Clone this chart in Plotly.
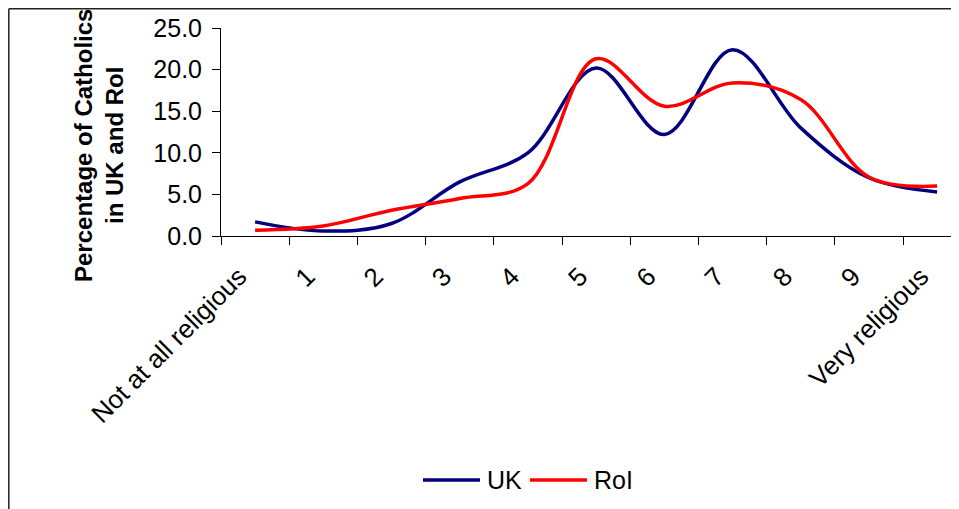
import plotly.graph_objects as go

categories = ["Not at all religious", "1", "2", "3", "4", "5", "6", "7", "8", "9", "Very religious"]
uk_values = [1.7, 0.6, 1.5, 6.5, 10.0, 20.2, 12.2, 22.4, 13.0, 7.0, 5.3]
roi_values = [0.7, 1.2, 3.1, 4.5, 6.3, 21.3, 15.6, 18.4, 16.4, 7.1, 6.0]
y_ticks = [0, 5, 10, 15, 20, 25]
series_names = ["UK", "RoI"]
series_colors = ["#000080", "#FF0000"]

# page body adds an 8px offset, so the figure is drawn 8px smaller
OFF = 8
W, H = 959 - OFF, 509 - OFF
L, T, B_px = 221 - OFF, 28 - OFF, 236 - OFF
R = 0
PW = W - L - R
PH = B_px - T

def px_x(px):  # px given in reference-window coordinates
    return (px - OFF - L) / PW

def px_y(py):
    return (B_px - (py - OFF)) / PH

FONT = "Arial, Liberation Sans, sans-serif"

fig = go.Figure()
for name, vals, col in zip(series_names, [uk_values, roi_values], series_colors):
    fig.add_trace(go.Scatter(x=categories, y=vals, name=name, mode="lines", showlegend=False,
                             line=dict(color=col, width=3.5, shape="spline", smoothing=1.0)))

fig.update_layout(
    width=W, height=H,
    margin=dict(l=L, r=R, t=T, b=H - B_px, autoexpand=False),
    paper_bgcolor="white", plot_bgcolor="white",
    font=dict(family=FONT, size=24, color="black"),
    showlegend=False,
    xaxis=dict(type="category", categoryorder="array", categoryarray=categories,
               range=[-0.5, -0.5 + PW / 68.2], tickson="boundaries",
               ticks="outside", ticklen=8, tickcolor="black", tickwidth=1,
               showline=True, linecolor="black", linewidth=1, showgrid=False,
               tickangle=-45, tickfont=dict(size=26),
               ticklabelstandoff=14, ticklabelshift=-16),
    yaxis=dict(range=[0, 25], tickvals=y_ticks, tickformat=".1f",
               ticks="outside", ticklen=8, tickcolor="black", tickwidth=1,
               showline=True, linecolor="black", linewidth=1, showgrid=False,
               zeroline=False, tickfont=dict(size=25), ticklabelstandoff=5),
)

fig.add_annotation(text="<b>Percentage of Catholics<br>in UK and RoI</b>",
                   xref="paper", yref="paper", x=px_x(99), y=px_y(145),
                   xanchor="center", yanchor="middle", textangle=-90,
                   showarrow=False, font=dict(size=24, family=FONT, color="black"))

# legend drawn as line samples + labels
leg_items = [(423, 480, 485), (530, 587, 592)]
for (lx0, lx1, tx), name, col in zip(leg_items, series_names, series_colors):
    fig.add_shape(type="line", xref="paper", yref="paper",
                  x0=px_x(lx0), y0=px_y(480), x1=px_x(lx1), y1=px_y(480),
                  line=dict(color=col, width=3.5))
    fig.add_annotation(text=name, xref="paper", yref="paper", x=px_x(tx), y=px_y(480),
                       xanchor="left", yanchor="middle", showarrow=False,
                       font=dict(size=25, family=FONT, color="black"))

# outer chart frame (cropped at right and bottom), drawn at the figure's top-left edge
fx = px_x(OFF + 0.8)
fy = px_y(OFF + 0.8)
fig.add_shape(type="line", xref="paper", yref="paper",
              x0=fx, y0=fy, x1=px_x(980), y1=fy,
              line=dict(color="#222222", width=1.5))
fig.add_shape(type="line", xref="paper", yref="paper",
              x0=fx, y0=fy, x1=fx, y1=px_y(530),
              line=dict(color="#222222", width=1.5))

fig.write_html("out.html")
